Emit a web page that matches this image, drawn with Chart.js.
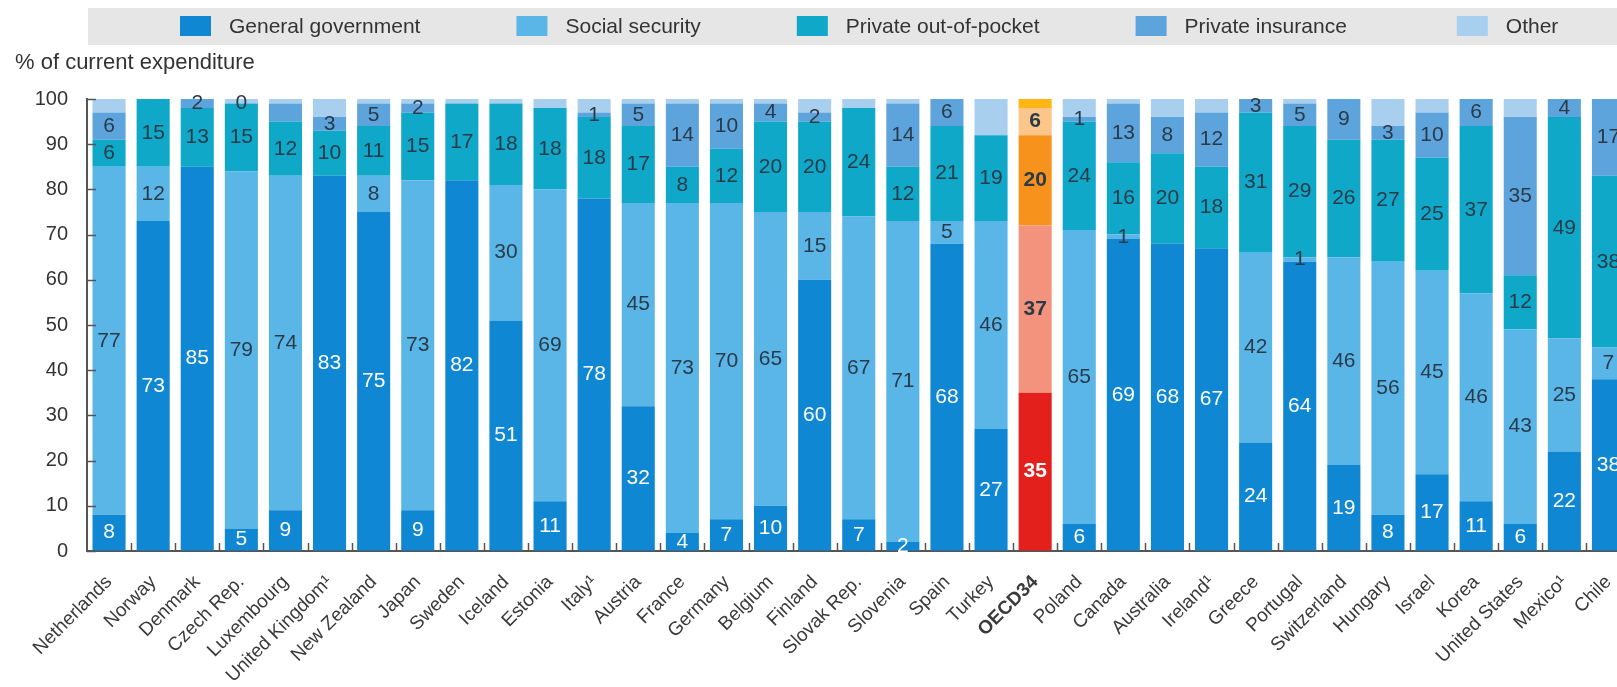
<!DOCTYPE html>
<html>
<head>
<meta charset="utf-8">
<script src="https://cdn.jsdelivr.net/npm/chart.js@4.4.1/dist/chart.umd.min.js"></script>
<style>
  html, body { margin: 0; padding: 0; background: #fff; overflow: hidden; }
  #wrap { position: relative; width: 1660px; height: 687px; }
</style>
</head>
<body>
<div id="wrap"><canvas id="chart"></canvas></div>
<script>
const countries = ['Netherlands', 'Norway', 'Denmark', 'Czech Rep.', 'Luxembourg', 'United Kingdom¹', 'New Zealand', 'Japan',
  'Sweden', 'Iceland', 'Estonia', 'Italy¹', 'Austria', 'France', 'Germany', 'Belgium', 'Finland', 'Slovak Rep.', 'Slovenia',
  'Spain', 'Turkey', 'OECD34', 'Poland', 'Canada', 'Australia', 'Ireland¹', 'Greece', 'Portugal', 'Switzerland', 'Hungary',
  'Israel', 'Korea', 'United States', 'Mexico¹', 'Chile'];

const generalGov  = [8, 73, 85, 5, 9, 83, 75, 9, 82, 51, 11, 78, 32, 4, 7, 10, 60, 7, 2, 68, 27, 35, 6, 69, 68, 67, 24, 64, 19, 8, 17, 11, 6, 22, 38];
const socialSec   = [77, 12, null, 79, 74, null, 8, 73, null, 30, 69, null, 45, 73, 70, 65, 15, 67, 71, 5, 46, 37, 65, 1, null, null, 42, 1, 46, 56, 45, 46, 43, 25, 7];
const outOfPocket = [6, 15, 13, 15, 12, 10, 11, 15, 17, 18, 18, 18, 17, 8, 12, 20, 20, 24, 12, 21, 19, 20, 24, 16, 20, 18, 31, 29, 26, 27, 25, 37, 12, 49, 38];
const privateIns  = [6, null, 2, 0, 4, 3, 5, 2, null, null, null, 1, 5, 14, 10, 4, 2, null, 14, 6, null, 6, 1, 13, 8, 12, 3, 5, 9, 3, 10, 6, 35, 4, 17];
const otherSrc    = [3, null, null, 1, 1, 4, 1, 1, 1, 1, 2, 3, 1, 1, 1, 1, 3, 2, 1, null, 8, 2, 4, 1, 4, 3, null, 1, null, 6, 3, null, 4, null, null];

const seriesNames = ['General government', 'Social security', 'Private out-of-pocket', 'Private insurance', 'Other'];
const yTicks = [0, 10, 20, 30, 40, 50, 60, 70, 80, 90, 100];

const FONT = "'Liberation Sans Narrow', 'Arial Narrow', 'Liberation Sans', sans-serif";
const blues   = ['#0f87d2', '#5ab6e7', '#0fa8c8', '#5ea4dc', '#a9cfee'];
const oranges = ['#e3201b', '#f4937d', '#f7931d', '#fcc68a', '#fdb614'];
const oecdIdx = countries.indexOf('OECD34');
const noLabel = [[countries.indexOf('Luxembourg'), 3]]; // segment shown without number

const series = [generalGov, socialSec, outOfPocket, privateIns, otherSrc];

// gray legend band, axis title, numbers and small tick marks
const decor = {
  id: 'decor',
  beforeDraw(chart) {
    const { ctx, width } = chart;
    ctx.save();
    ctx.fillStyle = '#e6e6e6';
    ctx.fillRect(88, 8, width - 88, 37);
    ctx.font = '21px ' + FONT;
    ctx.textBaseline = 'middle';
    let x = 180;
    chart.data.datasets.forEach((ds, d) => {
      ctx.fillStyle = blues[d];
      ctx.fillRect(x, 16, 31, 20);
      ctx.fillStyle = '#333';
      ctx.fillText(ds.label, x + 49, 27);
      x += 49 + ctx.measureText(ds.label).width + (d === 3 ? 110 : 96);
    });
    ctx.font = '22px ' + FONT;
    ctx.textBaseline = 'alphabetic';
    ctx.fillText('% of current expenditure', 15, 69);
    ctx.restore();
  },
  afterDatasetsDraw(chart) {
    const { ctx, chartArea } = chart;
    const xs = chart.scales.x, ys = chart.scales.y;
    ctx.save();
    // numbers inside the segments
    ctx.textAlign = 'center';
    ctx.textBaseline = 'middle';
    for (let d = 0; d < 4; d++) {
      const meta = chart.getDatasetMeta(d);
      series[d].forEach((v, i) => {
        if (v === null) return;
        if (noLabel.some(p => p[0] === i && p[1] === d)) return;
        const bar = meta.data[i];
        const isOecd = i === oecdIdx;
        ctx.font = (isOecd ? 'bold ' : '') + '21px ' + FONT;
        ctx.fillStyle = d === 0 ? '#ffffff' : '#2b3a48';
        ctx.fillText(String(v), bar.x, (bar.y + bar.base) / 2);
      });
    }
    // inward ticks on the value axis
    ctx.strokeStyle = '#555';
    ctx.lineWidth = 1.5;
    yTicks.forEach(v => {
      const py = Math.round(ys.getPixelForValue(v)) + 0.5;
      ctx.beginPath();
      ctx.moveTo(chartArea.left, py);
      ctx.lineTo(chartArea.left + 9, py);
      ctx.stroke();
    });
    // small ticks between the bars
    const half = (xs.getPixelForValue(1) - xs.getPixelForValue(0)) / 2;
    for (let i = 0; i < countries.length; i++) {
      const px = Math.round(xs.getPixelForValue(i) + half) + 0.5;
      ctx.beginPath();
      ctx.moveTo(px, chartArea.bottom);
      ctx.lineTo(px, chartArea.bottom - 8);
      ctx.stroke();
    }
    ctx.restore();
  }
};

new Chart(document.getElementById('chart'), {
  type: 'bar',
  data: {
    labels: countries,
    datasets: series.map((vals, d) => ({
      label: seriesNames[d],
      data: vals,
      backgroundColor: ctx => ctx.dataIndex === oecdIdx ? oranges[d] : blues[d],
      borderWidth: 0,
      barPercentage: 0.75,
      categoryPercentage: 1
    }))
  },
  options: {
    responsive: true,
    maintainAspectRatio: false,
    animation: false,
    layout: { padding: { top: 99, right: 29.5, left: 0, bottom: 0 } },
    plugins: {
      legend: { display: false },
      tooltip: { enabled: false }
    },
    scales: {
      x: {
        stacked: true,
        grid: { display: false, drawTicks: false },
        border: { display: true, color: '#555', width: 2 },
        ticks: {
          autoSkip: false,
          maxRotation: 45,
          minRotation: 45,
          padding: 20,
          color: '#3a3a3a',
          font: ctx => ({ family: FONT, size: 19, weight: ctx.index === oecdIdx ? 'bold' : 'normal' })
        },
        afterFit(scale) { scale.height = 136; }
      },
      y: {
        stacked: true,
        min: 0,
        max: 100,
        z: 1,
        grid: { color: 'rgba(255,255,255,0.22)', drawTicks: false },
        border: { display: true, color: '#555', width: 2 },
        ticks: {
          stepSize: 10,
          padding: 19,
          color: '#333',
          font: { family: FONT, size: 20 }
        },
        afterFit(scale) { scale.width = 87; }
      }
    }
  },
  plugins: [decor]
});
</script>
</body>
</html>
